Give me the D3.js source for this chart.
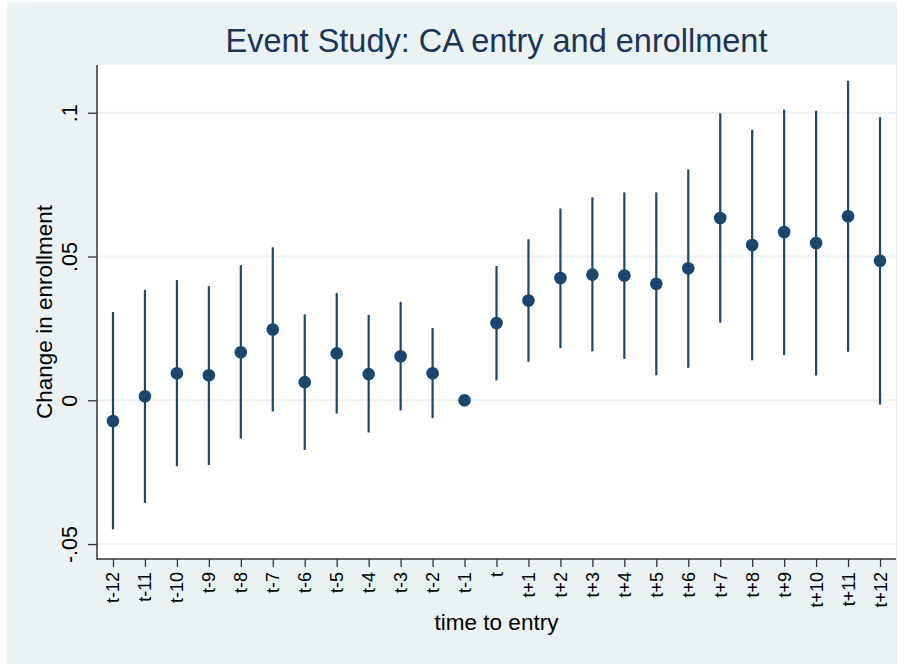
<!DOCTYPE html>
<html lang="en">
<head>
  <meta charset="utf-8">
  <title>Event Study</title>
  <script src="https://d3js.org/d3.v7.min.js"></script>
  <style>
    body { margin: 0; background: #fff; }
    svg text { font-family: "Liberation Sans", Arial, sans-serif; }
  </style>
</head>
<body>

<svg width="907" height="664"></svg>

<script>
  // Data
  const periods = ["t-12","t-11","t-10","t-9","t-8","t-7","t-6","t-5","t-4","t-3","t-2","t-1",
                   "t","t+1","t+2","t+3","t+4","t+5","t+6","t+7","t+8","t+9","t+10","t+11","t+12"];
  const estimate = [-0.0072, 0.0014, 0.0094, 0.0087, 0.0167, 0.0246, 0.0063, 0.0163, 0.0091, 0.0153, 0.0094, 0.0,
                    0.0269, 0.0347, 0.0425, 0.0437, 0.0434, 0.0405, 0.0459, 0.0634, 0.0540, 0.0585, 0.0547, 0.0640, 0.0485];
  const ciLow = [-0.0449, -0.0357, -0.0229, -0.0225, -0.0133, -0.0039, -0.0173, -0.0046, -0.0112, -0.0035, -0.0062, null,
                 0.0069, 0.0134, 0.0181, 0.0170, 0.0144, 0.0087, 0.0113, 0.0270, 0.0139, 0.0157, 0.0086, 0.0169, -0.0015];
  const ciHigh = [0.0307, 0.0384, 0.0418, 0.0397, 0.0470, 0.0532, 0.0299, 0.0373, 0.0297, 0.0342, 0.0251, null,
                  0.0467, 0.0560, 0.0667, 0.0706, 0.0723, 0.0723, 0.0803, 0.0998, 0.0941, 0.1011, 0.1007, 0.1111, 0.0984];
  const yTicks = [-0.05, 0, 0.05, 0.1];
  const yTickLabels = ["-.05", "0", ".05", ".1"];

  const svg = d3.select("svg");
  const navy = "#1a476f";
  const bg = "#eaf2f3";
  const plot = { left: 97, right: 896, top: 65, bottom: 559 };

  // Outer background
  svg.append("rect")
    .attr("x", 7).attr("y", 2)
    .attr("width", 890).attr("height", 662)
    .attr("fill", bg);

  // Plot region
  svg.append("rect")
    .attr("x", plot.left).attr("y", plot.top)
    .attr("width", plot.right - plot.left).attr("height", plot.bottom - plot.top)
    .attr("fill", "#fff");

  const x = d3.scalePoint()
    .domain(periods)
    .range([plot.left, plot.right])
    .padding(0.5);

  const y = d3.scaleLinear()
    .domain([-0.0552, 0.1166])
    .range([plot.bottom, plot.top]);

  // Gridlines
  svg.append("g")
    .selectAll("line")
    .data(yTicks)
    .join("line")
    .attr("x1", plot.left).attr("x2", plot.right)
    .attr("y1", d => y(d)).attr("y2", d => y(d))
    .attr("stroke", bg)
    .attr("stroke-width", 2);

  const rows = periods.map((p, i) => ({ p, est: estimate[i], lo: ciLow[i], hi: ciHigh[i] }));

  // Confidence intervals
  svg.append("g")
    .selectAll("line")
    .data(rows.filter(d => d.lo !== null))
    .join("line")
    .attr("x1", d => x(d.p)).attr("x2", d => x(d.p))
    .attr("y1", d => y(d.lo)).attr("y2", d => y(d.hi))
    .attr("stroke", navy)
    .attr("stroke-width", 2.2);

  // Point estimates
  svg.append("g")
    .selectAll("circle")
    .data(rows)
    .join("circle")
    .attr("cx", d => x(d.p))
    .attr("cy", d => y(d.est))
    .attr("r", 6.3)
    .attr("fill", navy);

  // Y axis
  const yAxis = svg.append("g")
    .attr("transform", `translate(${plot.left},0)`)
    .call(d3.axisLeft(y).tickValues(yTicks).tickSize(9).tickSizeOuter(0).tickFormat((d, i) => yTickLabels[i]));
  yAxis.select(".domain").remove();
  yAxis.selectAll(".tick line").attr("stroke", "#333").attr("stroke-width", 1.3);
  yAxis.selectAll(".tick text")
    .attr("x", 0).attr("y", 0).attr("dy", null)
    .attr("transform", "translate(-20,0) rotate(-90)")
    .attr("text-anchor", "middle")
    .attr("font-size", 21.5)
    .attr("fill", "#000");

  // X axis
  const xAxis = svg.append("g")
    .attr("transform", `translate(0,${plot.bottom})`)
    .call(d3.axisBottom(x).tickSize(8).tickSizeOuter(0));
  xAxis.select(".domain").remove();
  xAxis.selectAll(".tick line").attr("stroke", "#333").attr("stroke-width", 1.3);
  xAxis.selectAll(".tick text")
    .attr("x", 0).attr("y", 0).attr("dy", null)
    .attr("transform", "translate(0,13) rotate(-90)")
    .attr("text-anchor", "end")
    .attr("dominant-baseline", "central")
    .attr("font-size", 18)
    .attr("fill", "#000");

  // Axis lines
  svg.append("line")
    .attr("x1", plot.left).attr("x2", plot.left)
    .attr("y1", plot.top).attr("y2", plot.bottom + 0.7)
    .attr("stroke", "#333").attr("stroke-width", 1.5);
  svg.append("line")
    .attr("x1", plot.left).attr("x2", plot.right)
    .attr("y1", plot.bottom).attr("y2", plot.bottom)
    .attr("stroke", "#333").attr("stroke-width", 1.5);

  // Titles
  svg.append("text")
    .attr("x", (plot.left + plot.right) / 2).attr("y", 52)
    .attr("text-anchor", "middle")
    .attr("font-size", 32.5)
    .attr("fill", "#1c3557")
    .text("Event Study: CA entry and enrollment");

  svg.append("text")
    .attr("transform", `translate(52,${(plot.top + plot.bottom) / 2}) rotate(-90)`)
    .attr("text-anchor", "middle")
    .attr("font-size", 22.5)
    .attr("fill", "#000")
    .text("Change in enrollment");

  svg.append("text")
    .attr("x", (plot.left + plot.right) / 2).attr("y", 630)
    .attr("text-anchor", "middle")
    .attr("font-size", 22.5)
    .attr("fill", "#000")
    .text("time to entry");
</script>
</body>
</html>
